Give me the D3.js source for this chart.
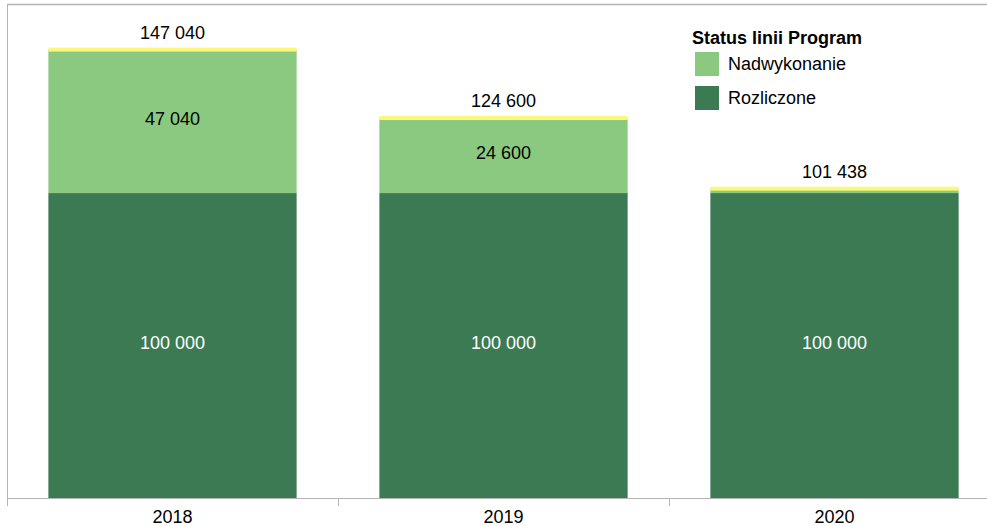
<!DOCTYPE html>
<html><head><meta charset="utf-8">
<script src="https://cdn.jsdelivr.net/npm/d3@7"></script>
<style>html,body{margin:0;padding:0;background:#fff;}svg{display:block;font-family:Arial,"Liberation Sans",sans-serif;}</style>
</head><body>
<svg id="c" width="987" height="526"></svg>
<script>
const categories = ["2018", "2019", "2020"];
const rozliczone = [100000, 100000, 100000];
const nadwykonanie = [47040, 24600, 1438];
const totals = [147040, 124600, 101438];
const legendTitle = "Status linii Program";
const seriesNames = ["Nadwykonanie", "Rozliczone"];
const colors = {Rozliczone: "#3c7a53", Nadwykonanie: "#8bc980", top: "#fbf77a"};
const fmt = v => d3.format(",")(v).replace(/,/g, " ");
const FS = 18;

const svg = d3.select("#c");
const x = d3.scaleBand().domain(categories).range([7, 1000]).paddingInner(0.25).paddingOuter(0.125);
const y = d3.scaleLinear().domain([0, 162000]).range([498, 4]);

// frame
svg.append("line").attr("x1", 7).attr("x2", 987).attr("y1", 4.5).attr("y2", 4.5).attr("stroke", "#b3b3b3").attr("stroke-width", 1.5);
svg.append("line").attr("x1", 7.5).attr("x2", 7.5).attr("y1", 4).attr("y2", 498).attr("stroke", "#b3b3b3").attr("stroke-width", 1);

const data = categories.map((c, i) => ({c, r: rozliczone[i], n: nadwykonanie[i], t: totals[i]}));
const g = svg.append("g");
g.selectAll(".r").data(data).join("rect").attr("x", d => x(d.c)).attr("width", x.bandwidth())
  .attr("y", d => y(d.r)).attr("height", d => y(0) - y(d.r)).attr("fill", colors.Rozliczone);
g.selectAll(".n").data(data).join("rect").attr("x", d => x(d.c)).attr("width", x.bandwidth())
  .attr("y", d => y(d.r + d.n)).attr("height", d => y(d.r) - y(d.r + d.n)).attr("fill", colors.Nadwykonanie);
g.selectAll(".t").data(data).join("rect").attr("x", d => x(d.c)).attr("width", x.bandwidth())
  .attr("y", d => y(d.t) - 2).attr("height", 4).attr("fill", colors.top);

// labels
g.selectAll(".lr").data(data).join("text").attr("x", d => x(d.c) + x.bandwidth()/2).attr("y", d => (y(d.r) + y(0))/2)
  .attr("dy", "0.2em").attr("text-anchor", "middle").attr("fill", "#fff").attr("font-size", FS).text(d => fmt(d.r));
g.selectAll(".ln").data(data.filter(d => y(d.r) - y(d.r + d.n) > 20)).join("text").attr("x", d => x(d.c) + x.bandwidth()/2)
  .attr("y", d => (y(d.r) + y(d.r + d.n))/2).attr("dy", "0.2em").attr("text-anchor", "middle").attr("fill", "#000").attr("font-size", FS).text(d => fmt(d.n));
g.selectAll(".lt").data(data).join("text").attr("x", d => x(d.c) + x.bandwidth()/2).attr("y", d => y(d.t) - 17)
  .attr("dy", "0.35em").attr("text-anchor", "middle").attr("fill", "#000").attr("font-size", FS).text(d => fmt(d.t));

// x axis
const ax = svg.append("g").attr("transform", "translate(0,498)");
ax.append("line").attr("x1", 7).attr("x2", 987).attr("y1", 0.5).attr("y2", 0.5).attr("stroke", "#b3b3b3");
ax.selectAll(".tk").data(categories).join("line").attr("x1", d => x(d) - x.step()*0.125 + 0.5).attr("x2", d => x(d) - x.step()*0.125 + 0.5)
  .attr("y1", 0).attr("y2", 8).attr("stroke", "#b3b3b3");
ax.selectAll(".tl").data(categories).join("text").attr("x", d => x(d) + x.bandwidth()/2).attr("y", 19)
  .attr("dy", "0.35em").attr("text-anchor", "middle").attr("fill", "#000").attr("font-size", FS).text(d => d);

// legend
const lg = svg.append("g").attr("transform", "translate(692,38)");
lg.append("text").attr("x", 0).attr("y", 0).attr("dy", "0.35em").attr("font-weight", "bold").attr("font-size", FS).attr("fill", "#000").text(legendTitle);
seriesNames.forEach((s, i) => {
  lg.append("rect").attr("x", 3).attr("y", 14 + i*34).attr("width", 24).attr("height", 24).attr("fill", colors[s]);
  lg.append("text").attr("x", 36).attr("y", 26 + i*34).attr("dy", "0.35em").attr("font-size", FS).attr("fill", "#000").text(s);
});
</script>
</body></html>
